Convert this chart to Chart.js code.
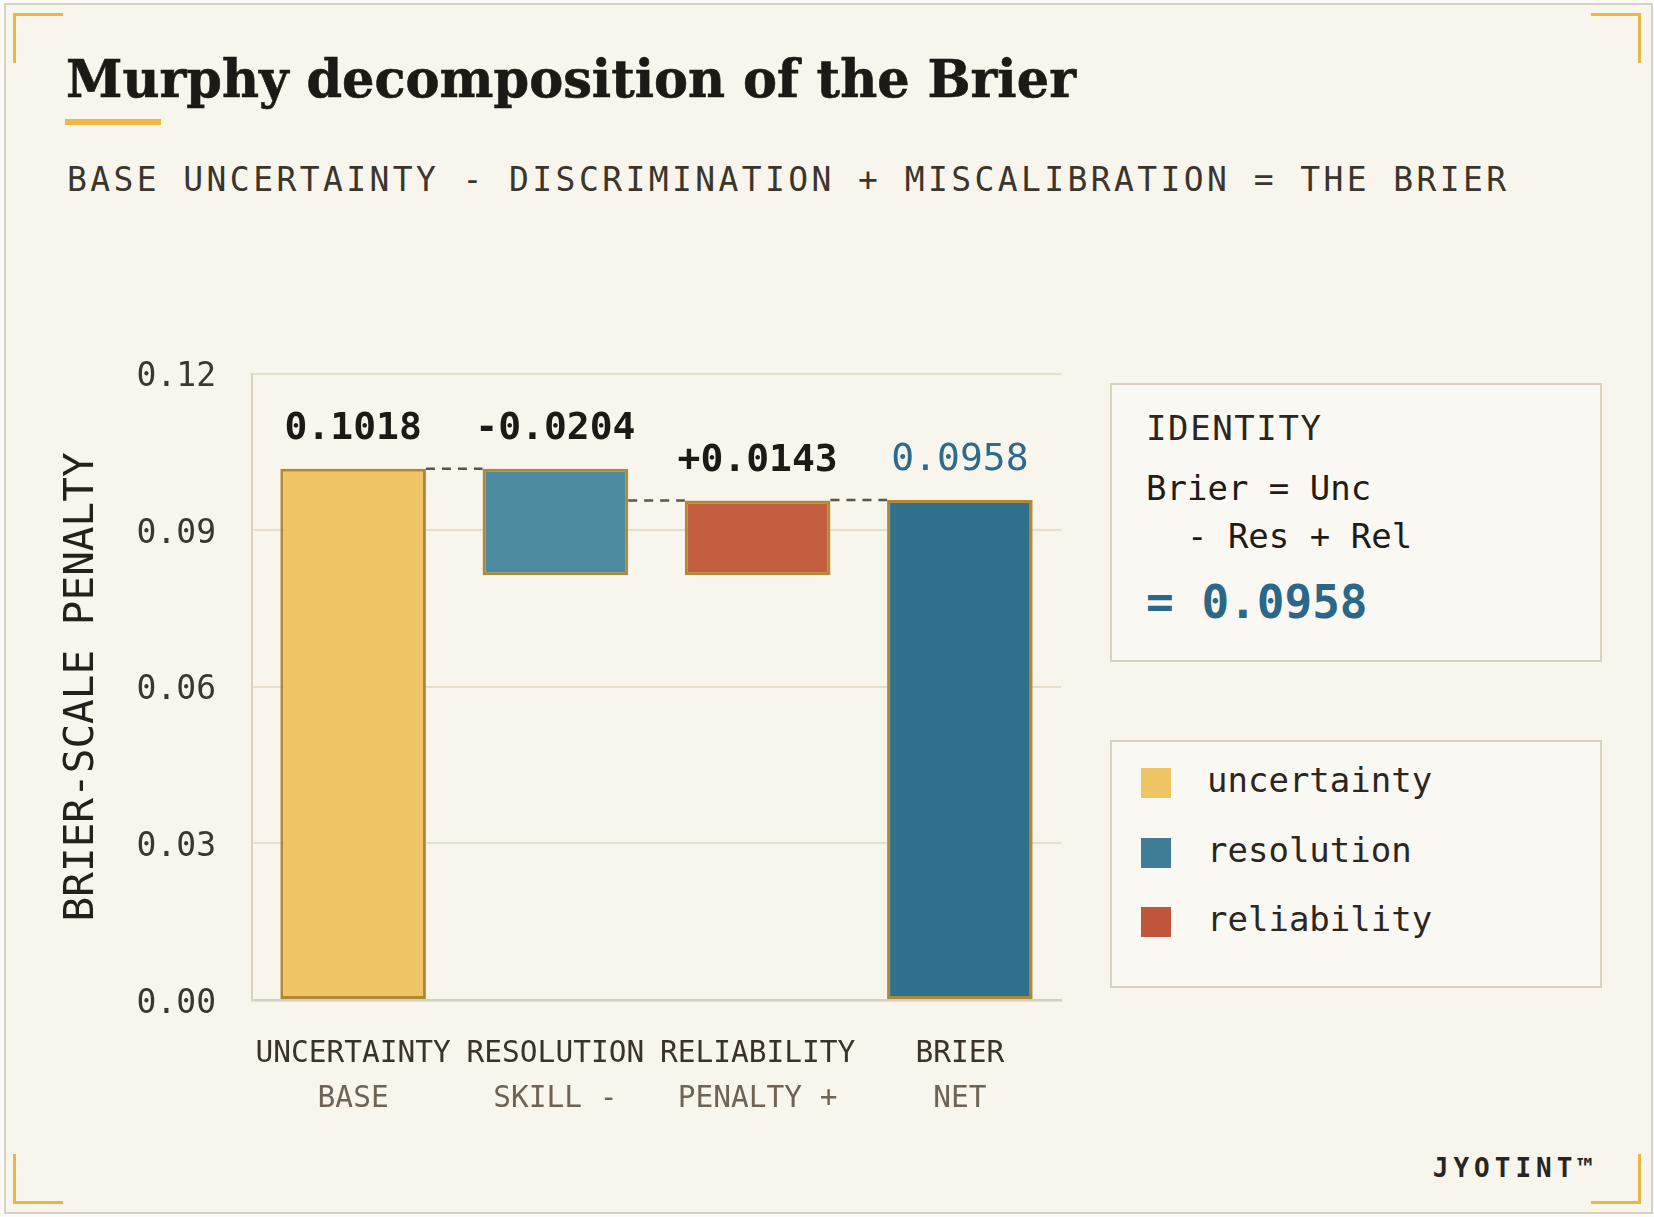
<!DOCTYPE html>
<html><head><meta charset="utf-8">
<script src="https://cdn.jsdelivr.net/npm/chart.js@4.4.1/dist/chart.umd.min.js"></script>
<style>
html,body{margin:0;padding:0;}
body{width:1654px;height:1217px;background:#fbfaf6;position:relative;overflow:hidden;font-family:'DejaVu Sans Mono',monospace;}
#card{position:absolute;left:4px;top:3px;width:1645px;height:1207px;border:2px solid #d6d1c7;background:#f8f5ed;box-sizing:content-box;}
.t{position:absolute;white-space:pre;margin:0;}
.corner{position:absolute;width:50px;height:50px;box-sizing:border-box;border:0 solid #ebb742;}
.box{position:absolute;box-sizing:border-box;border:2px solid #d9d0bf;background:#faf8f2;}
.sw{position:absolute;width:30px;height:30px;}
#wrap{position:absolute;left:0;top:318px;width:1100px;height:812px;}
</style></head>
<body>
<div id="card"></div>
<div class="corner" style="left:13px;top:13px;border-top-width:3px;border-left-width:3px;"></div>
<div class="corner" style="left:1591px;top:13px;border-top-width:3px;border-right-width:3px;"></div>
<div class="corner" style="left:13px;top:1154px;border-bottom-width:3px;border-left-width:3px;"></div>
<div class="corner" style="left:1591px;top:1154px;border-bottom-width:3px;border-right-width:3px;"></div>

<div id="title" class="t" style="left:66px;top:52px;font-family:'DejaVu Serif',serif;font-weight:bold;font-size:53px;line-height:53px;color:#1d1914;transform-origin:0 0;-webkit-text-stroke:0.6px #1d1914;">Murphy decomposition of the Brier</div>
<div style="position:absolute;left:65px;top:119px;width:96px;height:6px;background:#ecb945;"></div>
<div class="t" style="left:67px;top:163px;font-size:33px;line-height:33px;letter-spacing:3.4px;color:#3b352c;">BASE UNCERTAINTY - DISCRIMINATION + MISCALIBRATION = THE BRIER</div>

<div id="wrap"><canvas id="c" width="1100" height="812"></canvas></div>

<div class="box" style="left:1110px;top:383px;width:492px;height:279px;"></div>
<div class="t" style="left:1146px;top:411px;font-size:34px;line-height:34px;letter-spacing:1.6px;color:#2b2620;">IDENTITY</div>
<div class="t" style="left:1146px;top:471px;font-size:34px;line-height:34px;color:#1f1b16;">Brier = Unc</div>
<div class="t" style="left:1146px;top:519px;font-size:34px;line-height:34px;color:#1f1b16;">  - Res + Rel</div>
<div class="t" style="left:1146px;top:579px;font-size:46px;line-height:46px;font-weight:bold;color:#2a6788;">= 0.0958</div>

<div class="box" style="left:1110px;top:740px;width:492px;height:248px;"></div>
<div id="legend"></div>

<div class="t" style="right:56px;top:1155px;font-size:26px;line-height:26px;font-weight:bold;letter-spacing:5px;color:#2a251f;">JYOTINT™</div>

<script>
// ---- data ----
const categories = ['UNCERTAINTY', 'RESOLUTION', 'RELIABILITY', 'BRIER'];
const subLabels = ['BASE', 'SKILL -', 'PENALTY +', 'NET'];
const componentValues = [0.1018, -0.0204, 0.0143, 0.0958];
const valueLabels = ['0.1018', '-0.0204', '+0.0143', '0.0958'];
const yTicks = [0, 0.03, 0.06, 0.09, 0.12];
const legendNames = ['uncertainty', 'resolution', 'reliability'];

// ---- styles ----
const barFills = ['#efc465', '#4b8a9f', '#c25d40', '#30718f'];
const legendFills = ['#efc465', '#3f7d97', '#c0553b'];
const MONO = "'DejaVu Sans Mono', monospace";

// fit title width to the reference measure
const titleEl = document.getElementById('title');
const tw = titleEl.getBoundingClientRect().width;
titleEl.style.transform = 'scaleX(' + (1010 / tw) + ')';

// waterfall ranges derived from the components
const unc = componentValues[0];
const afterRes = unc + componentValues[1];
const afterRel = afterRes + componentValues[2];
const ranges = [[0, unc], [afterRes, unc], [afterRes, afterRel], [0, componentValues[3]]];

// legend
const lg = document.getElementById('legend');
legendNames.forEach((n, i) => {
  const cy = 783 + i * 69.5;
  const s = document.createElement('div');
  s.className = 'sw'; s.style.left = '1141px'; s.style.top = (cy - 15) + 'px'; s.style.background = legendFills[i];
  lg.appendChild(s);
  const t = document.createElement('div');
  t.className = 't'; t.textContent = n;
  t.style.cssText += 'left:1207px;font-size:34px;line-height:34px;color:#2b2620;top:' + (cy - 20) + 'px;';
  lg.appendChild(t);
});

const waterfall = {
  id: 'waterfall',
  afterDatasetsDraw(chart) {
    const ctx = chart.ctx, meta = chart.getDatasetMeta(0), y = chart.scales.y;
    ctx.save();
    ctx.setLineDash([9, 7]); ctx.lineWidth = 2.5; ctx.strokeStyle = '#5b544a';
    for (let i = 0; i < meta.data.length - 1; i++) {
      const a = meta.data[i], b = meta.data[i + 1];
      const yy = y.getPixelForValue(Math.max(...ranges[i + 1]));
      ctx.beginPath(); ctx.moveTo(a.x + a.width / 2, yy); ctx.lineTo(b.x - b.width / 2, yy); ctx.stroke();
    }
    ctx.setLineDash([]);
    ctx.textAlign = 'center'; ctx.textBaseline = 'alphabetic';
    meta.data.forEach((bar, i) => {
      const top = y.getPixelForValue(Math.max(...ranges[i]));
      const last = i === meta.data.length - 1;
      ctx.font = (last ? 'normal ' : 'bold ') + '38px ' + MONO;
      ctx.fillStyle = last ? '#2d6b8c' : '#1d1a16';
      ctx.fillText(valueLabels[i], bar.x, top - 30);
    });
    ctx.restore();
  }
};

new Chart(document.getElementById('c'), {
  type: 'bar',
  data: {
    labels: categories,
    datasets: [{
      data: ranges,
      backgroundColor: barFills,
      borderColor: '#b08935',
      borderWidth: 3,
      borderSkipped: false,
      categoryPercentage: 0.9,
      barPercentage: 0.8
    }]
  },
  options: {
    responsive: false,
    animation: false,
    layout: { padding: { top: 0, right: 39, left: 0, bottom: 0 } },
    plugins: { legend: { display: false }, tooltip: { enabled: false } },
    scales: {
      x: {
        type: 'category', position: 'bottom', weight: 1,
        grid: { display: false, drawTicks: false },
        border: { display: true, color: '#d5cec0', width: 2.5 },
        ticks: { padding: 37, autoSkip: false, maxRotation: 0, minRotation: 0,
          font: { family: MONO, size: 29.5 }, color: '#3a3328',
          callback: (v, i) => categories[i] },
        afterFit(s) { s.height = 70; }
      },
      x2: {
        type: 'category', position: 'bottom', weight: 2,
        grid: { display: false, drawTicks: false },
        border: { display: false },
        ticks: { padding: 12, autoSkip: false, maxRotation: 0, minRotation: 0,
          font: { family: MONO, size: 29.5 }, color: '#6e6354',
          callback: (v, i) => subLabels[i] },
        afterFit(s) { s.height = 60; }
      },
      y: {
        min: 0, max: 0.12,
        afterBuildTicks(s) { s.ticks = yTicks.map(v => ({ value: v })); },
        grid: { color: '#e6ddcc', lineWidth: 2, drawTicks: false },
        border: { display: true, color: '#dad1bf', width: 2 },
        ticks: { padding: 36, labelOffset: 4, font: { family: MONO, size: 33 }, color: '#3b362f',
          callback: v => Number(v).toFixed(2) },
        title: { display: true, text: 'BRIER-SCALE PENALTY', font: { family: MONO, size: 41 },
          color: '#24201b', padding: { top: 58, bottom: 0 } },
        afterFit(s) { s.width = 252; }
      }
    }
  },
  plugins: [waterfall]
});
</script>
</body></html>
